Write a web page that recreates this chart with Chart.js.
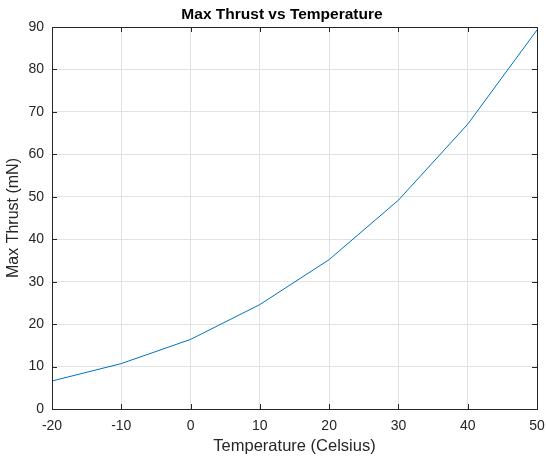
<!DOCTYPE html>
<html><head><meta charset="utf-8">
<script src="https://cdn.jsdelivr.net/npm/chart.js@4/dist/chart.umd.min.js"></script>
<style>html,body{margin:0;padding:0;background:#fff}</style>
</head><body>
<canvas id="c" width="546" height="458"></canvas>
<script>
const temperatures = [-20, -10, 0, 10, 20, 30, 40, 50];
const maxThrust = [6.6, 10.7, 16.4, 24.6, 35.2, 49.2, 67.1, 89.3];
const xTicks = [-20, -10, 0, 10, 20, 30, 40, 50];
const yTicks = [0, 10, 20, 30, 40, 50, 60, 70, 80, 90];
const chartTitle = 'Max Thrust vs Temperature';
const xLabel = 'Temperature (Celsius)';
const yLabel = 'Max Thrust (mN)';

const axisColor = '#262626';
const gridColor = '#e3e3e3';
const fontFam = 'Arial, "Liberation Sans", Helvetica, sans-serif';

const boxPlugin = {
  id: 'box',
  afterDraw(chart) {
    const {ctx, chartArea: a, scales: {x, y}} = chart;
    ctx.save();
    ctx.strokeStyle = axisColor;
    ctx.lineWidth = 1;
    ctx.beginPath();
    const L = 5;
    xTicks.forEach(v => {
      const px = Math.round(x.getPixelForValue(v)) + 0.5;
      ctx.moveTo(px, a.bottom); ctx.lineTo(px, a.bottom - L);
      ctx.moveTo(px, a.top); ctx.lineTo(px, a.top + L);
    });
    yTicks.forEach(v => {
      const py = Math.round(y.getPixelForValue(v)) + 0.5;
      ctx.moveTo(a.left, py); ctx.lineTo(a.left + L, py);
      ctx.moveTo(a.right, py); ctx.lineTo(a.right - L, py);
    });
    ctx.stroke();
    ctx.strokeRect(Math.round(a.left) + 0.5, Math.round(a.top) + 0.5, Math.round(a.right - a.left), Math.round(a.bottom - a.top));
    ctx.fillStyle = '#000';
    ctx.font = 'bold 15.5px ' + fontFam;
    ctx.textAlign = 'center';
    ctx.textBaseline = 'middle';
    ctx.fillText(chartTitle, 282, 15);
    ctx.restore();
  }
};

new Chart(document.getElementById('c'), {
  type: 'line',
  data: {
    datasets: [{
      data: temperatures.map((t, i) => ({x: t, y: maxThrust[i]})),
      borderColor: '#0072BD',
      borderWidth: 1,
      pointRadius: 0,
      tension: 0,
      fill: false
    }]
  },
  options: {
    responsive: false,
    devicePixelRatio: 1,
    animation: false,
    layout: {padding: {top: 27, right: 9, left: 0, bottom: 0}},
    plugins: {legend: {display: false}, title: {display: false}, tooltip: {enabled: false}},
    scales: {
      x: {
        type: 'linear', min: -20, max: 50,
        afterBuildTicks: s => { s.ticks = xTicks.map(v => ({value: v})); },
        afterFit: s => { s.height = 49; s.paddingLeft = 0; s.paddingRight = 0; },
        grid: {color: gridColor, drawTicks: false},
        border: {display: false},
        ticks: {color: axisColor, font: {size: 14, family: fontFam}, padding: 9, maxRotation: 0},
        title: {display: true, text: xLabel, color: axisColor, font: {size: 16.5, family: fontFam}, padding: {top: 0, bottom: 2}}
      },
      y: {
        type: 'linear', min: 0, max: 90,
        afterBuildTicks: s => { s.ticks = yTicks.map(v => ({value: v})); },
        afterFit: s => { s.width = 52; s.paddingTop = 0; s.paddingBottom = 0; },
        grid: {color: gridColor, drawTicks: false},
        border: {display: false},
        ticks: {color: axisColor, font: {size: 14, family: fontFam}, padding: 8},
        title: {display: true, text: yLabel, color: axisColor, font: {size: 16, family: fontFam}, padding: {top: 4, bottom: 0}}
      }
    }
  },
  plugins: [boxPlugin]
});
</script>
</body></html>
